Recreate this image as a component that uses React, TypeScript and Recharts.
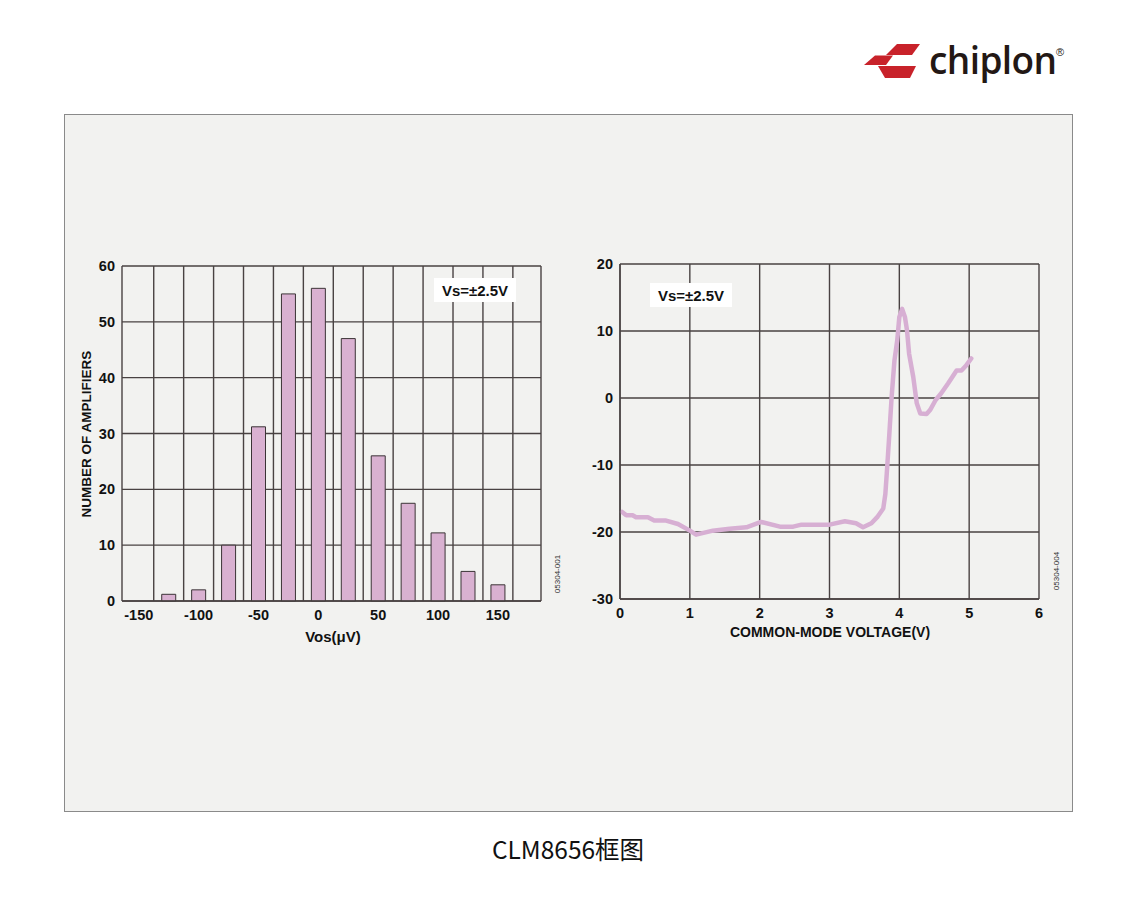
import React from 'react';
import {
  ComposedChart,
  Bar,
  XAxis,
  YAxis,
  CartesianGrid,
  ReferenceLine,
  LineChart,
  Line,
} from 'recharts';

// ---------- Left chart: offset voltage histogram ----------
const binCenters = [-125, -100, -75, -50, -25, 0, 25, 50, 75, 100, 125, 150];
const amplifierCounts = [1.2, 2, 10, 31.2, 55, 56, 47, 26, 17.5, 12.2, 5.3, 2.9];
const histXTicks = [-150, -100, -50, 0, 50, 100, 150];
const histYTicks = [0, 10, 20, 30, 40, 50, 60];
const histBinEdges = [
  -137.5, -112.5, -87.5, -62.5, -37.5, -12.5, 12.5, 37.5, 62.5, 87.5, 112.5, 137.5, 162.5,
];
const histXDomain = [-164, 186];
const histYDomain = [0, 60];

// ---------- Right chart: offset vs common-mode voltage ----------
const cmVoltage = [
  0.03, 0.09, 0.18, 0.23, 0.4, 0.49, 0.66, 0.83, 1.0, 1.09, 1.33, 1.57, 1.81, 2.02, 2.29,
  2.48, 2.6, 2.76, 3.0, 3.22, 3.38, 3.48, 3.6, 3.69, 3.77, 3.8, 3.82, 3.85, 3.89, 3.93,
  3.97, 4.0, 4.04, 4.08, 4.11, 4.14, 4.2, 4.25, 4.3, 4.39, 4.44, 4.52, 4.6, 4.7, 4.82,
  4.89, 4.96, 5.03,
];
const cmOffset = [
  -17.0, -17.5, -17.5, -17.8, -17.8, -18.3, -18.3, -18.8, -19.8, -20.4, -19.8, -19.5,
  -19.3, -18.5, -19.2, -19.2, -18.9, -18.9, -18.9, -18.4, -18.7, -19.3, -18.7, -17.7,
  -16.5, -14.3, -11.3, -6.5, 0.2, 5.6, 8.6, 12.1, 13.3, 12.1, 10.1, 6.6, 3.1, -0.8, -2.3,
  -2.4, -1.8, -0.3, 0.7, 2.2, 4.1, 4.1, 4.9, 5.9,
];
const cmXTicks = [0, 1, 2, 3, 4, 5, 6];
const cmYTicks = [-30, -20, -10, 0, 10, 20];

const histData = binCenters.map((x, i) => ({ x, count: amplifierCounts[i] }));
const cmData = cmVoltage.map((v, i) => ({ v, y: cmOffset[i] }));

const FONT = '"Liberation Sans", Arial, Helvetica, sans-serif';
const GRID = '#494242';
const TICK = { fill: '#111', fontSize: 14.5, fontWeight: 700, fontFamily: FONT };

function VsBox({ left, top }: { left: number; top: number }) {
  return (
    <div
      style={{
        position: 'absolute',
        left,
        top,
        width: 82,
        height: 24,
        background: '#ffffff',
        fontFamily: FONT,
        fontWeight: 700,
        fontSize: 15,
        color: '#111',
        display: 'flex',
        alignItems: 'center',
        justifyContent: 'center',
        lineHeight: 1,
      }}
    >
      Vs=±2.5V
    </div>
  );
}

export default function App() {
  return (
    <div
      style={{
        position: 'absolute',
        left: 0,
        top: 0,
        width: 1137,
        height: 900,
        background: '#ffffff',
        overflow: 'hidden',
      }}
    >
      {/* panel */}
      <div
        style={{
          position: 'absolute',
          left: 64,
          top: 114,
          width: 1007,
          height: 696,
          background: '#f2f2f0',
          border: '1px solid #8a8a8a',
        }}
      />

      {/* left histogram */}
      <div style={{ position: 'absolute', left: 0, top: 0 }}>
        <ComposedChart
          width={570}
          height={700}
          data={histData}
          margin={{ top: 266, right: 29, bottom: 69, left: 72 }}
        >
          <CartesianGrid vertical={false} stroke={GRID} strokeWidth={1.4} />
          <XAxis
            dataKey="x"
            type="number"
            domain={histXDomain}
            ticks={histXTicks}
            allowDataOverflow
            height={30}
            tickLine={false}
            tickSize={0}
            tickMargin={9}
            axisLine={{ stroke: GRID, strokeWidth: 1.4 }}
            tick={TICK}
            interval={0}
          />
          <YAxis
            type="number"
            domain={histYDomain}
            ticks={histYTicks}
            width={50}
            tickLine={false}
            tickSize={0}
            tickMargin={7}
            axisLine={{ stroke: GRID, strokeWidth: 1.4 }}
            tick={TICK}
            interval={0}
          />
          {histBinEdges.map((e) => (
            <ReferenceLine key={e} x={e} stroke={GRID} strokeWidth={1.4} />
          ))}
          <ReferenceLine x={histXDomain[1]} stroke={GRID} strokeWidth={1.4} />
          <Bar
            dataKey="count"
            barSize={14}
            fill="#d9b1d1"
            stroke="#3b3436"
            strokeWidth={1}
            isAnimationActive={false}
          />
        </ComposedChart>
      </div>

      {/* right line chart */}
      <div style={{ position: 'absolute', left: 570, top: 0 }}>
        <LineChart
          width={567}
          height={700}
          data={cmData}
          margin={{ top: 264, right: 98, bottom: 71, left: 10 }}
        >
          <CartesianGrid stroke={GRID} strokeWidth={1.4} />
          <XAxis
            dataKey="v"
            type="number"
            domain={[0, 6]}
            ticks={cmXTicks}
            height={30}
            tickLine={false}
            tickSize={0}
            tickMargin={9}
            axisLine={{ stroke: GRID, strokeWidth: 1.4 }}
            tick={TICK}
            interval={0}
          />
          <YAxis
            type="number"
            domain={[-30, 20]}
            ticks={cmYTicks}
            width={40}
            tickLine={false}
            tickSize={0}
            tickMargin={7}
            axisLine={{ stroke: GRID, strokeWidth: 1.4 }}
            tick={TICK}
            interval={0}
          />
          <Line
            dataKey="y"
            type="linear"
            stroke="#d7afd3"
            strokeWidth={4.5}
            strokeLinejoin="round"
            strokeLinecap="round"
            dot={false}
            isAnimationActive={false}
          />
        </LineChart>
      </div>

      <VsBox left={434} top={278} />
      <VsBox left={650} top={283} />

      {/* overlay texts and logo */}
      <svg
        width={1137}
        height={900}
        style={{ position: 'absolute', left: 0, top: 0, pointerEvents: 'none' }}
      >
        {/* logo */}
        <polygon points="897,44 920,44 912,55 886,55" fill="#c8222a" />
        <polygon points="875,55.5 893,55.5 886,65 864,65" fill="#c8222a" />
        <polygon points="878,66 916,66 910,78 885,78" fill="#c8222a" />
        <text
          x={929}
          y={74}
          fontFamily='"Open Sans", "Noto Sans", sans-serif'
          fontWeight={600}
          fontSize={37}
          fill="#231815"
          letterSpacing={-0.6}
        >
          chiplon
        </text>
        <text x={1056} y={56} fontFamily={FONT} fontSize={11} fill="#231815">
          ®
        </text>

        {/* left chart labels */}
        <text
          x={0}
          y={0}
          transform="translate(91,434) rotate(-90)"
          textAnchor="middle"
          fontFamily={FONT}
          fontWeight={700}
          fontSize={13.5}
          fill="#111"
        >
          NUMBER OF AMPLIFIERS
        </text>
        <text
          x={333}
          y={642}
          textAnchor="middle"
          fontFamily={FONT}
          fontWeight={700}
          fontSize={15}
          fill="#111"
        >
          Vos(μV)
        </text>
        <text
          x={0}
          y={0}
          transform="translate(560,574) rotate(-90)"
          textAnchor="middle"
          fontFamily={FONT}
          fontSize={8}
          fill="#333"
        >
          05304-001
        </text>

        {/* right chart labels */}
        <text
          x={830}
          y={637}
          textAnchor="middle"
          fontFamily={FONT}
          fontWeight={700}
          fontSize={14}
          fill="#111"
        >
          COMMON-MODE VOLTAGE(V)
        </text>
        <text
          x={0}
          y={0}
          transform="translate(1059,571) rotate(-90)"
          textAnchor="middle"
          fontFamily={FONT}
          fontSize={8}
          fill="#333"
        >
          05304-004
        </text>

        {/* caption */}
        <text
          x={568}
          y={859}
          textAnchor="middle"
          fontFamily='"Noto Sans CJK SC", "Noto Sans", sans-serif'
          fontSize={24.5}
          fill="#111"
        >
          CLM8656框图
        </text>
      </svg>
    </div>
  );
}
